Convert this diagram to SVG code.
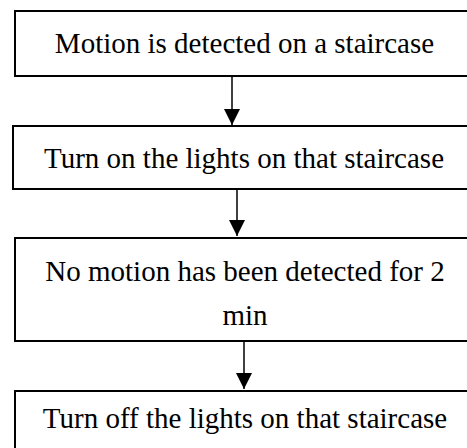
<svg xmlns="http://www.w3.org/2000/svg" width="467" height="448" viewBox="0 0 467 448">
<style>
.box{fill:#fff;stroke:#000;stroke-width:2}
.t{font-family:"Liberation Serif","DejaVu Serif",serif;font-size:29px;fill:#000;text-anchor:middle}
.c{stroke:#000;stroke-width:1.5;fill:none}
</style>
<defs>
<marker id="ah" viewBox="0 0 16 16" refX="16" refY="8" markerWidth="16" markerHeight="16" markerUnits="userSpaceOnUse" orient="auto">
<path d="M0,0 L16,8 L0,16 Z" fill="#000"/>
</marker>
</defs>
<rect width="467" height="448" fill="#fff"/>
<g id="n1"><rect class="box" x="15" y="11" width="470" height="65"/><text class="t" x="244.5" y="53">Motion is detected on a staircase</text></g>
<g id="n2"><rect class="box" x="13" y="126" width="470" height="63"/><text class="t" x="244" y="168">Turn on the lights on that staircase</text></g>
<g id="n3"><rect class="box" x="15" y="238" width="470" height="103"/><text class="t" x="245" y="281">No motion has been detected for 2</text><text class="t" x="245" y="325">min</text></g>
<g id="n4"><rect class="box" x="15" y="391" width="470" height="70"/><text class="t" x="245" y="428">Turn off the lights on that staircase</text></g>
<g id="connectors">
<line class="c" x1="232" y1="77" x2="232" y2="125" marker-end="url(#ah)"/>
<line class="c" x1="237" y1="190" x2="237" y2="236" marker-end="url(#ah)"/>
<line class="c" x1="244" y1="342" x2="244" y2="389" marker-end="url(#ah)"/>
</g>
</svg>
